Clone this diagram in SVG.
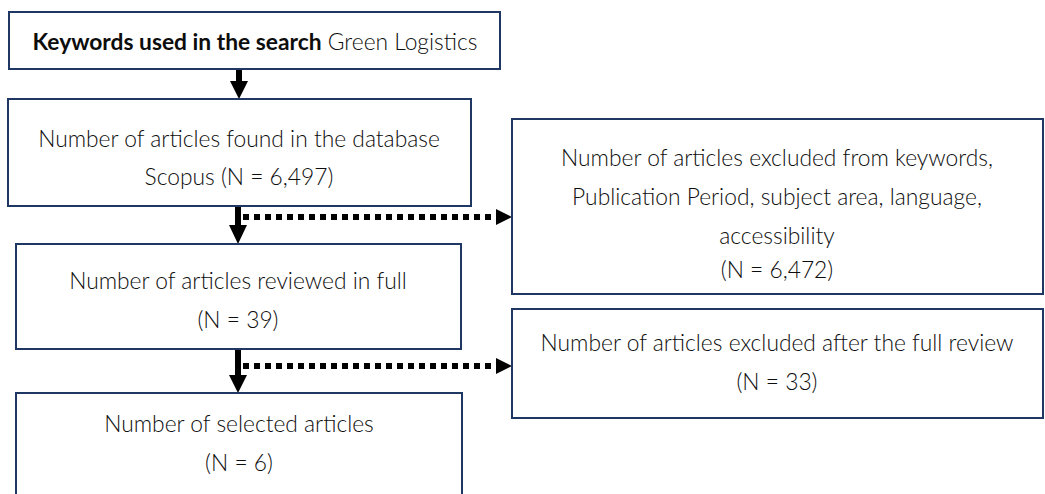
<svg xmlns="http://www.w3.org/2000/svg" width="1045" height="494" viewBox="0 0 1045 494">
<style>
.box{fill:#ffffff;stroke:#1f3763;stroke-width:2}
.t{font-family:Lato,"Noto Sans",sans-serif;font-size:22.8px;font-weight:300;fill:#0d0d0d;text-anchor:middle}
.b{font-weight:bold}
.shaft{stroke:#000;stroke-width:6;fill:none}
.dot{stroke:#000;stroke-width:6;stroke-dasharray:6 5;fill:none}
.head{fill:#000}
</style>
<rect width="1045" height="494" fill="#ffffff"/>
<g id="connectors">
<line class="shaft" x1="239" y1="69" x2="239" y2="82"/>
<polygon class="head" points="230,81 248,81 239,99"/>
<line class="shaft" x1="238" y1="206" x2="238" y2="226"/>
<polygon class="head" points="229,225 247,225 238,244"/>
<line class="shaft" x1="238" y1="349" x2="238" y2="376"/>
<polygon class="head" points="229,375 247,375 238,393"/>
<line class="dot" x1="243" y1="217" x2="497" y2="217"/>
<polygon class="head" points="496,209 496,225 512,217"/>
<line class="dot" x1="243" y1="366" x2="497" y2="366"/>
<polygon class="head" points="496,358 496,374 512,366"/>
</g>
<g id="n1">
<rect class="box" x="9" y="12" width="491" height="57"/>
<text class="t" x="255" y="50"><tspan class="b">Keywords used in the search</tspan> Green Logistics</text>
</g>
<g id="n2">
<rect class="box" x="8" y="99" width="463" height="107"/>
<text class="t" x="239" y="147">Number of articles found in the database</text>
<text class="t" x="239" y="185">Scopus (N = 6,497)</text>
</g>
<g id="n3">
<rect class="box" x="512" y="119" width="531" height="175"/>
<text class="t" x="777" y="166">Number of articles excluded from keywords,</text>
<text class="t" x="777" y="205">Publication Period, subject area, language,</text>
<text class="t" x="777" y="244">accessibility</text>
<text class="t" x="777" y="278">(N = 6,472)</text>
</g>
<g id="n4">
<rect class="box" x="16" y="244" width="445" height="105"/>
<text class="t" x="238" y="289">Number of articles reviewed in full</text>
<text class="t" x="238" y="328">(N = 39)</text>
</g>
<g id="n5">
<rect class="box" x="512" y="309" width="531" height="109"/>
<text class="t" x="777" y="351">Number of articles excluded after the full review</text>
<text class="t" x="777" y="390">(N = 33)</text>
</g>
<g id="n6">
<rect class="box" x="16" y="393" width="446" height="110"/>
<text class="t" x="239" y="432">Number of selected articles</text>
<text class="t" x="239" y="471">(N = 6)</text>
</g>
</svg>
